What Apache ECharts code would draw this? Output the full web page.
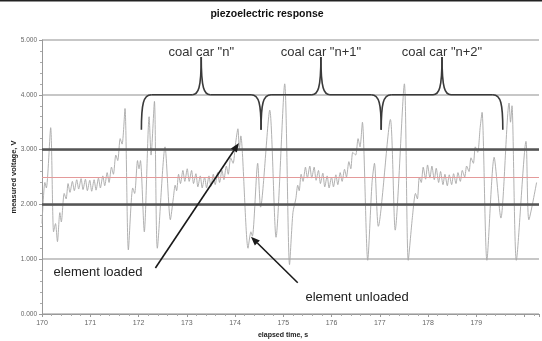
<!DOCTYPE html>
<html><head><meta charset="utf-8">
<script src="https://cdn.jsdelivr.net/npm/echarts@6/dist/echarts.min.js"></script>
<style>html,body{margin:0;padding:0;background:#fff}#c{width:542px;height:341px}</style>
</head><body><div id="c"></div>
<script>
// ---- data ----
const times = [
170.00,170.06,170.09,170.18,170.24,170.28,170.32,170.37,170.40,170.46,170.50,170.54,
170.58,170.63,170.67,170.72,170.76,170.81,170.85,170.90,170.94,170.99,171.03,171.08,
171.12,171.17,171.21,171.26,171.30,171.35,171.39,171.44,171.48,171.53,171.57,171.62,
171.66,171.72,171.79,171.88,171.92,171.98,172.01,172.04,172.12,172.22,172.26,172.33,
172.39,172.55,172.66,172.72,172.76,172.79,172.83,172.87,172.92,172.96,173.01,173.05,
173.10,173.14,173.19,173.23,173.28,173.32,173.37,173.41,173.46,173.50,173.55,173.59,
173.64,173.68,173.73,173.77,173.82,173.86,173.91,173.96,174.01,174.06,174.09,174.12,
174.27,174.33,174.36,174.47,174.53,174.72,174.85,175.03,175.13,175.20,175.26,175.30,
175.33,175.37,175.41,175.46,175.50,175.55,175.59,175.64,175.68,175.73,175.77,175.82,
175.86,175.91,175.95,176.00,176.04,176.09,176.13,176.18,176.22,176.27,176.31,176.36,
176.40,176.44,176.50,176.55,176.59,176.64,176.75,176.84,176.89,176.97,177.22,177.32,
177.51,177.59,177.68,177.74,177.78,177.82,177.86,177.90,177.95,177.99,178.04,178.08,
178.13,178.17,178.22,178.26,178.31,178.35,178.40,178.44,178.49,178.53,178.58,178.62,
178.67,178.71,178.76,178.80,178.85,178.89,178.94,178.98,179.03,179.08,179.12,179.22,
179.37,179.51,179.68,179.71,179.74,179.83,180.03,180.09,180.25
];
const volts = [
1.65,2.40,2.30,3.40,1.50,1.65,1.32,1.85,1.68,2.20,2.10,2.38,
2.22,2.42,2.25,2.45,2.28,2.47,2.27,2.46,2.25,2.44,2.24,2.45,
2.26,2.48,2.30,2.52,2.34,2.58,2.40,2.68,2.55,2.90,2.80,3.20,
3.10,3.75,1.17,2.30,2.20,2.80,2.65,2.80,1.50,3.60,2.90,3.88,
1.20,3.05,1.72,2.10,2.35,2.25,2.55,2.38,2.62,2.42,2.65,2.42,
2.62,2.38,2.56,2.32,2.52,2.30,2.50,2.30,2.52,2.33,2.55,2.36,
2.58,2.40,2.62,2.45,2.70,2.55,2.85,2.75,3.10,3.38,3.00,3.25,
1.20,1.50,1.42,2.75,1.95,3.72,1.40,4.20,0.90,1.85,2.10,2.35,
2.25,2.55,2.42,2.68,2.48,2.70,2.48,2.68,2.44,2.62,2.38,2.57,
2.32,2.52,2.30,2.50,2.32,2.54,2.36,2.58,2.42,2.64,2.50,2.78,
2.65,2.95,2.90,3.20,3.05,3.50,0.98,2.40,2.75,1.60,3.55,1.53,
4.20,0.98,1.80,2.20,2.10,2.50,2.40,2.68,2.46,2.72,2.48,2.70,
2.45,2.66,2.40,2.60,2.36,2.55,2.34,2.54,2.36,2.56,2.38,2.58,
2.42,2.62,2.50,2.70,2.60,2.85,2.75,3.05,2.95,3.40,3.68,0.98,
2.86,1.75,3.85,3.50,3.80,0.98,3.15,1.72,2.40
];
const thresholds = [3, 2];
const midLevel = [2.5];
const carLabels = ['coal car "n"', 'coal car "n+1"', 'coal car "n+2"'];
const braceEnds = [172.06, 174.54, 177.03, 179.55];
const braceCusps = [173.30, 175.78, 178.29];
const braceLevels = { bar: 4.0, foot: 3.36, tip: 4.69, label: 4.77 };
const loadedArrow = { from: [172.35, 0.84], to: [174.08, 3.12], text: 'element loaded', textAt: [170.24, 0.75] };
const unloadedArrow = { from: [175.30, 0.57], to: [174.33, 1.41], text: 'element unloaded', textAt: [175.46, 0.31] };

const FONT = '"Liberation Sans", Arial, sans-serif';
const chart = echarts.init(document.getElementById('c'), null, { renderer: 'canvas' });

chart.setOption({
  animation: false,
  backgroundColor: '#fff',
  grid: { left: 42, right: 0, top: 40, bottom: 27 },
  xAxis: {
    type: 'value', min: 170, max: 180.3, interval: 1,
    axisLine: { lineStyle: { color: '#999', width: 1 } },
    axisTick: { show: true, length: 3, lineStyle: { color: '#999' } },
    minorTick: { show: true, splitNumber: 5, length: 2, lineStyle: { color: '#aaa' } },
    splitLine: { show: false },
    axisLabel: {
      fontFamily: FONT, fontSize: 7, color: '#666', margin: 6,
      formatter: v => (Math.abs(v - Math.round(v)) < 1e-6 && v < 179.5) ? String(Math.round(v)) : ''
    }
  },
  yAxis: {
    type: 'value', min: 0, max: 5, interval: 1,
    axisLine: { show: true, lineStyle: { color: '#999', width: 1 } },
    axisTick: { show: true, length: 3, lineStyle: { color: '#999' } },
    minorTick: { show: true, splitNumber: 5, length: 2, lineStyle: { color: '#aaa' } },
    splitLine: { show: true, lineStyle: { color: '#b4b4b4', width: 1.5 } },
    axisLabel: { fontFamily: FONT, fontSize: 6.5, color: '#666', margin: 5, formatter: v => v.toFixed(3) }
  },
  series: [
    {
      type: 'line', z: 2, silent: true, symbol: 'none',
      data: [],
      markLine: {
        symbol: 'none', silent: true, label: { show: false },
        data: thresholds.map(v => ({ yAxis: v, lineStyle: { color: '#555', width: 2.5, type: 'solid' } }))
          .concat(midLevel.map(v => ({ yAxis: v, lineStyle: { color: '#e49a9a', width: 1, type: 'solid' } })))
      }
    },
    {
      type: 'line', z: 3, silent: true, symbol: 'none', showSymbol: false, smooth: 0.25,
      lineStyle: { color: '#a8a8a8', width: 0.9 },
      data: times.map((t, i) => [t, volts[i]])
    }
  ]
});

function px(t, v) { return chart.convertToPixel({ gridIndex: 0 }, [t, v]); }

const g = [];
g.push({ type: 'rect', shape: { x: 0, y: 0, width: 542, height: 1.5 }, style: { fill: '#222' }, z: 100 });
g.push({ type: 'text', x: 267, y: 14, style: { text: 'piezoelectric response', font: 'bold 10.5px ' + FONT, fill: '#111', textAlign: 'center', textVerticalAlign: 'middle' }, z: 100 });
g.push({ type: 'text', x: 283, y: 335, style: { text: 'elapsed time, s', font: 'bold 7px ' + FONT, fill: '#222', textAlign: 'center', textVerticalAlign: 'middle' }, z: 100 });
g.push({ type: 'text', x: 14, y: 177, rotation: Math.PI / 2, style: { text: 'measured voltage, V', font: 'bold 7.5px ' + FONT, fill: '#222', textAlign: 'center', textVerticalAlign: 'middle' }, z: 100 });

// braces
const BR = { stroke: '#3a3a3a', lineWidth: 1.6, fill: null };
function bez(x1, y1, c1x, c1y, c2x, c2y, x2, y2) {
  g.push({ type: 'bezierCurve', shape: { x1, y1, cpx1: c1x, cpy1: c1y, cpx2: c2x, cpy2: c2y, x2, y2 }, style: BR, z: 90 });
}
function seg(x1, y1, x2, y2) {
  g.push({ type: 'line', shape: { x1, y1, x2, y2 }, style: BR, z: 90 });
}
const yb = px(170, braceLevels.bar)[1];
const yB = px(170, braceLevels.foot)[1];
const yt = px(170, braceLevels.tip)[1];
const yl = px(170, braceLevels.label)[1];
for (let i = 0; i < 3; i++) {
  const xL = px(braceEnds[i], 0)[0], xR = px(braceEnds[i + 1], 0)[0], xc = px(braceCusps[i], 0)[0];
  bez(xL, yB, xL, yb + 9, xL + 2, yb, xL + 10, yb);
  seg(xL + 10, yb, xc - 9, yb);
  bez(xc - 9, yb, xc - 3, yb, xc, yb - 6, xc, yt);
  bez(xc, yt, xc, yb - 6, xc + 3, yb, xc + 9, yb);
  seg(xc + 9, yb, xR - 10, yb);
  bez(xR - 10, yb, xR - 2, yb, xR, yb + 9, xR, yB);
  g.push({ type: 'text', x: xc, y: yl, style: { text: carLabels[i], font: '13px ' + FONT, fill: '#333', textAlign: 'center', textVerticalAlign: 'middle' }, z: 91 });
}

function arrow(a) {
  const p0 = px(a.from[0], a.from[1]), p1 = px(a.to[0], a.to[1]);
  const dx = p1[0] - p0[0], dy = p1[1] - p0[1], L = Math.hypot(dx, dy);
  const ux = dx / L, uy = dy / L, hl = 9, hw = 3.6;
  const bx = p1[0] - ux * hl, by = p1[1] - uy * hl;
  g.push({ type: 'line', shape: { x1: p0[0], y1: p0[1], x2: bx, y2: by }, style: { stroke: '#1a1a1a', lineWidth: 1.6 }, z: 92 });
  g.push({ type: 'polygon', shape: { points: [[p1[0], p1[1]], [bx - uy * hw, by + ux * hw], [bx + uy * hw, by - ux * hw]] }, style: { fill: '#1a1a1a' }, z: 92 });
  const tp = px(a.textAt[0], a.textAt[1]);
  g.push({ type: 'text', x: tp[0], y: tp[1], style: { text: a.text, font: '13px ' + FONT, fill: '#222', textAlign: 'left', textVerticalAlign: 'middle' }, z: 92 });
}
arrow(loadedArrow);
arrow(unloadedArrow);

chart.setOption({ graphic: g });
</script></body></html>
